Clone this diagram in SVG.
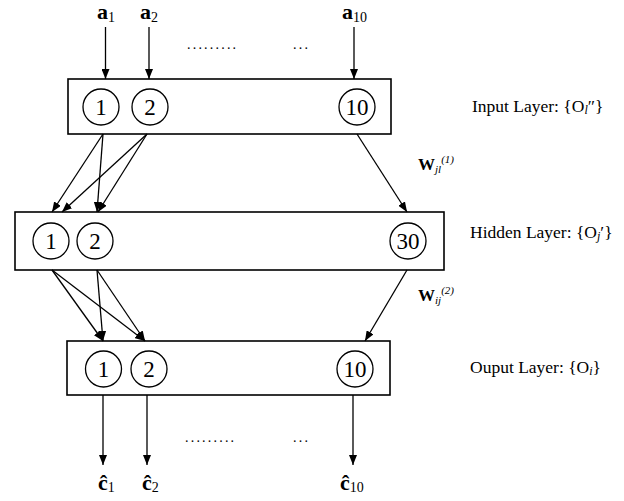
<svg xmlns="http://www.w3.org/2000/svg" width="624" height="501" viewBox="0 0 624 501">
<style>
text{font-family:"Liberation Serif","Times New Roman",serif;fill:#000}
.box{fill:none;stroke:#000;stroke-width:1.6}
.nd{fill:none;stroke:#000;stroke-width:1.3}
.num{font-size:23px;text-anchor:middle}
.lbl{font-size:17.5px}
.io{font-size:22px;font-weight:bold}
.sub{font-size:14px;font-weight:normal}
.w{font-size:17px;font-weight:bold}
.wi{font-size:11px;font-style:italic;font-weight:normal}
.dots{font-size:14px;letter-spacing:2.2px}
.cn line{stroke:#000;stroke-width:1.3;marker-end:url(#ah)}
</style>
<defs>
<marker id="ah" viewBox="0 0 10 8" refX="10" refY="4" markerWidth="10" markerHeight="8" markerUnits="userSpaceOnUse" orient="auto">
<path d="M0,0 L10,4 L0,8 Z" fill="#000"/>
</marker>
</defs>
<rect width="624" height="501" fill="#fff"/>

<g id="input-layer">
<rect class="box" x="68" y="79" width="323" height="55"/>
<g id="in1"><circle class="nd" cx="101" cy="107" r="18"/><text class="num" x="101" y="115">1</text></g>
<g id="in2"><circle class="nd" cx="150" cy="107" r="18"/><text class="num" x="150" y="115">2</text></g>
<g id="in10"><circle class="nd" cx="357" cy="107" r="18"/><text class="num" x="357" y="115">10</text></g>
</g>

<g id="hidden-layer">
<rect class="box" x="15" y="212" width="429" height="58"/>
<g id="h1"><circle class="nd" cx="51" cy="241" r="18"/><text class="num" x="51" y="249">1</text></g>
<g id="h2"><circle class="nd" cx="95" cy="241" r="18"/><text class="num" x="95" y="249">2</text></g>
<g id="h30"><circle class="nd" cx="408" cy="241" r="18"/><text class="num" x="408" y="249">30</text></g>
</g>

<g id="output-layer">
<rect class="box" x="67" y="341" width="323" height="54"/>
<g id="o1"><circle class="nd" cx="103.5" cy="369" r="18"/><text class="num" x="103.5" y="377">1</text></g>
<g id="o2"><circle class="nd" cx="149" cy="369" r="18"/><text class="num" x="149" y="377">2</text></g>
<g id="o10"><circle class="nd" cx="355" cy="369" r="18"/><text class="num" x="355" y="377">10</text></g>
</g>

<g id="connectors" class="cn">
<line x1="105.5" y1="27" x2="105.5" y2="79"/>
<line x1="149" y1="27" x2="149" y2="79"/>
<line x1="354" y1="27" x2="354" y2="79"/>
<line x1="103" y1="134" x2="52" y2="212"/>
<line x1="103" y1="134" x2="97" y2="212"/>
<line x1="147" y1="134" x2="62" y2="212"/>
<line x1="147" y1="134" x2="98" y2="212"/>
<line x1="357" y1="134" x2="407" y2="212"/>
<line x1="52" y1="270" x2="103" y2="341"/>
<line x1="52" y1="270" x2="145" y2="341"/>
<line x1="97" y1="270" x2="103" y2="341"/>
<line x1="97" y1="270" x2="145" y2="341"/>
<line x1="407" y1="270" x2="365" y2="341"/>
<line x1="103" y1="395" x2="103" y2="465"/>
<line x1="147" y1="395" x2="147" y2="465"/>
<line x1="353" y1="395" x2="353" y2="465"/>
</g>

<g id="inputs">
<text class="io" x="97" y="19">a<tspan class="sub" dy="3">1</tspan></text>
<text class="io" x="140" y="19">a<tspan class="sub" dy="3">2</tspan></text>
<text class="io" x="342" y="19">a<tspan class="sub" dy="3">10</tspan></text>
<text class="dots" x="187" y="49">.........</text>
<text class="dots" x="293" y="49">...</text>
</g>

<g id="outputs">
<text class="io" x="98" y="490">ĉ<tspan class="sub" dy="2">1</tspan></text>
<text class="io" x="142" y="490">ĉ<tspan class="sub" dy="2">2</tspan></text>
<text class="io" x="340" y="490">ĉ<tspan class="sub" dy="2">10</tspan></text>
<text class="dots" x="185" y="442">.........</text>
<text class="dots" x="293" y="442">...</text>
</g>

<g id="labels">
<text class="lbl" x="472" y="112">Input Layer: {O<tspan font-style="italic" font-size="12" dy="2">l</tspan><tspan dy="-2">″}</tspan></text>
<text class="lbl" x="470" y="238">Hidden Layer: {O<tspan font-style="italic" font-size="12" dy="2">j</tspan><tspan dy="-2">′}</tspan></text>
<text class="lbl" x="470" y="373">Ouput Layer: {O<tspan font-style="italic" font-size="12" dy="2">i</tspan><tspan dy="-2">}</tspan></text>
<text class="w" x="418" y="170">W<tspan class="wi" dy="3">jl</tspan><tspan class="wi" dy="-10">(1)</tspan></text>
<text class="w" x="418" y="301">W<tspan class="wi" dy="3">ij</tspan><tspan class="wi" dy="-10">(2)</tspan></text>
</g>
</svg>
